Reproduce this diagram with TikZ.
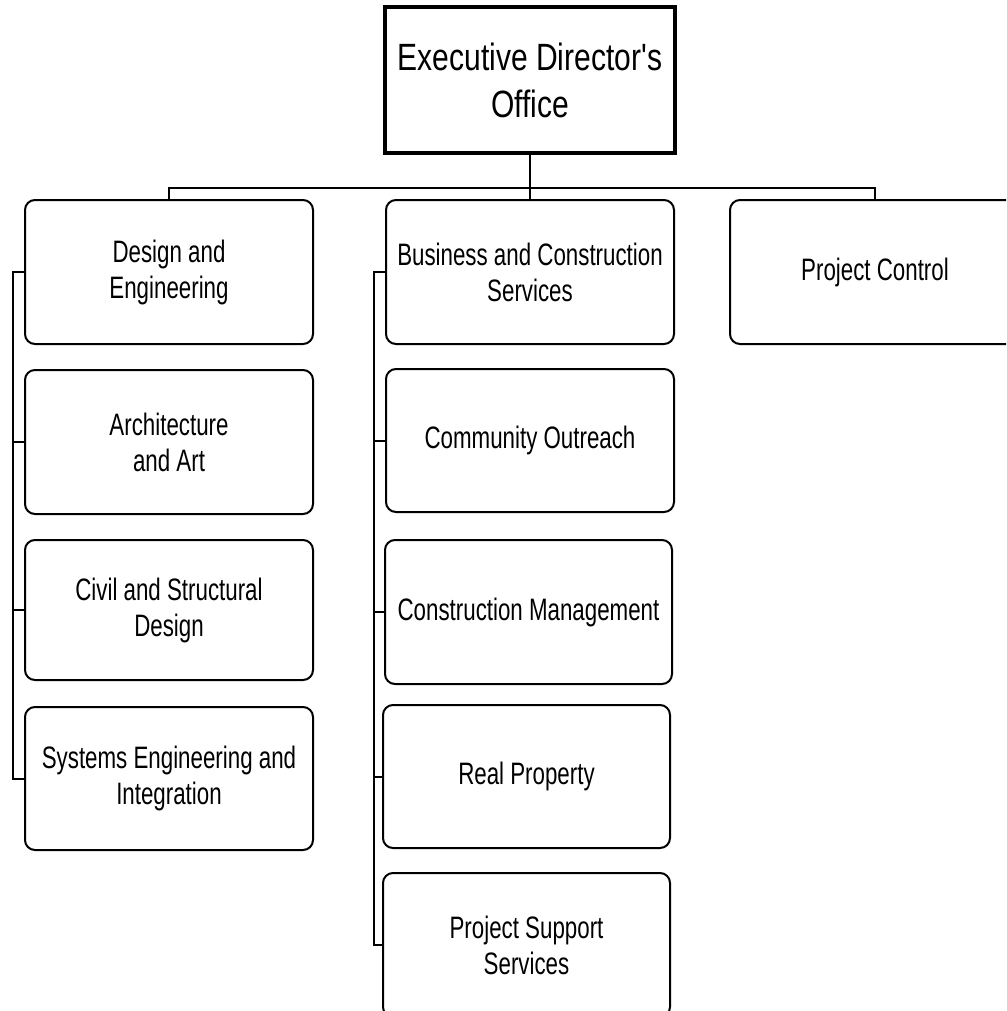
\documentclass[tikz,border=0pt]{standalone}
\usepackage{fontspec}
\newfontfamily\topfont[FakeStretch=0.79]{Liberation Sans}
\newfontfamily\boxfont[FakeStretch=0.72]{Liberation Sans}
\begin{document}
\begin{tikzpicture}[x=1pt,y=-1pt,
  unit/.style={draw=black, line width=2pt, rounded corners=10pt, rectangle,
    minimum width=288pt, minimum height=144pt, inner sep=0pt, outer sep=0pt,
    align=center, font=\boxfont\fontsize{31}{36}\selectfont},
  exec/.style={draw=black, line width=3.5pt, rectangle, minimum width=290pt,
    minimum height=146pt, inner sep=0pt, outer sep=0pt, align=center,
    font=\topfont\fontsize{38}{47}\selectfont},
  link/.style={draw=black, line width=2pt}]
\useasboundingbox (0,0) rectangle (1006,1011);
\clip (0,0) rectangle (1006,1011);
\fill[white] (0,0) rectangle (1006,1011);
% top
\node[exec] (ed) at (530,80) {Executive Director's\\Office};
% left column
\node[unit] (l1) at (169,272) {Design and\\Engineering};
\node[unit] (l2) at (169,442) {Architecture\\and Art};
\node[unit, minimum height=140pt] (l3) at (169,610) {Civil and Structural\\Design};
\node[unit, minimum height=143pt] (l4) at (169,778.5) {Systems Engineering and\\Integration};
% middle column
\node[unit] (m1) at (530,272) {Business and Construction\\Services};
\node[unit, minimum height=143pt] (m2) at (530,440.5) {Community Outreach};
\node[unit, minimum height=144pt, minimum width=287pt] (m3) at (528.5,612) {Construction Management};
\node[unit, minimum height=143pt, minimum width=287pt] (m4) at (526.5,776.5) {Real Property};
\node[unit, minimum height=144pt, minimum width=287pt] (m5) at (526.5,945) {Project Support\\Services};
% right
\node[unit, minimum width=290pt] (r1) at (875,272) {Project Control};
% connectors
\coordinate (bus) at (530,188);
\draw[link] (ed.south) -- (m1.north);
\draw[link] (l1.north) |- (bus) -| (r1.north);
\coordinate (lx1) at (13,272);
\coordinate (lx4) at (13,778.5);
\draw[link] (l1.west) -- (lx1) -- (lx4) -- (l4.west);
\draw[link] (l2.west) -- (13,0 |- l2.west);
\draw[link] (l3.west) -- (13,0 |- l3.west);
\coordinate (mx1) at (374,272);
\coordinate (mx5) at (374,945);
\draw[link] (m1.west) -- (mx1) -- (mx5) -- (m5.west);
\draw[link] (m2.west) -- (374,0 |- m2.west);
\draw[link] (m3.west) -- (374,0 |- m3.west);
\draw[link] (m4.west) -- (374,0 |- m4.west);
\end{tikzpicture}
\end{document}
